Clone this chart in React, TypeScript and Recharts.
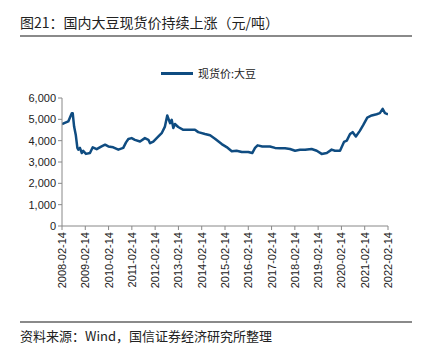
import React from 'react';
import { LineChart, Line, XAxis, YAxis } from 'recharts';

const times: number[] = [
  2008.12, 2008.39, 2008.54, 2008.58, 2008.64, 2008.71, 2008.78, 2008.82, 2008.89, 2008.97,
  2009.03, 2009.15, 2009.32, 2009.44, 2009.61, 2009.82, 2009.97, 2010.11, 2010.32, 2010.54,
  2010.75, 2010.87, 2010.97, 2011.11, 2011.25, 2011.47, 2011.68, 2011.83, 2011.90, 2012.04,
  2012.26, 2012.40, 2012.54, 2012.64, 2012.76, 2012.83, 2012.90, 2012.97, 2013.11, 2013.33,
  2013.54, 2013.83, 2013.97, 2014.26, 2014.48, 2014.69, 2014.98, 2015.19, 2015.41, 2015.62,
  2015.84, 2016.12, 2016.29, 2016.41, 2016.52, 2016.72, 2017.05, 2017.27, 2017.48, 2017.70,
  2017.91, 2018.13, 2018.34, 2018.56, 2018.84, 2019.06, 2019.27, 2019.49, 2019.70, 2019.84,
  2020.06, 2020.23, 2020.35, 2020.49, 2020.60, 2020.74, 2020.91, 2021.06, 2021.23, 2021.42,
  2021.63, 2021.77, 2021.89, 2021.99, 2022.12,
];

const prices: number[] = [
  4780, 4900, 5290, 5290, 4660, 4280, 3660, 3580, 3660, 3420,
  3520, 3380, 3420, 3690, 3600, 3730, 3810, 3730, 3690, 3580,
  3660, 3920, 4080, 4120, 4040, 3960, 4120, 4040, 3880, 3960,
  4200, 4350, 4660, 5180, 4820, 4980, 4590, 4780, 4640, 4510,
  4510, 4510, 4400, 4310, 4250, 4090, 3840, 3700, 3500, 3530,
  3470, 3470, 3420, 3660, 3780, 3730, 3730, 3660, 3640, 3640,
  3610, 3530, 3570, 3570, 3610, 3530, 3380, 3420, 3580, 3530,
  3530, 3940, 4000, 4310, 4400, 4200, 4460, 4740, 5080, 5180,
  5240, 5290, 5490, 5290, 5240,
];

const yearTicks: number[] = [
  2008.12, 2009.12, 2010.12, 2011.12, 2012.12, 2013.12, 2014.12, 2015.12,
  2016.12, 2017.12, 2018.12, 2019.12, 2020.12, 2021.12, 2022.12,
];
const tickLabels: string[] = [
  '2008-02-14', '2009-02-14', '2010-02-14', '2011-02-14', '2012-02-14', '2013-02-14', '2014-02-14', '2015-02-14',
  '2016-02-14', '2017-02-14', '2018-02-14', '2019-02-14', '2020-02-14', '2021-02-14', '2022-02-14',
];
const yTicks: number[] = [0, 1000, 2000, 3000, 4000, 5000, 6000];

const seriesName = '现货价:大豆';
const data = times.map((t, i) => ({ t, v: prices[i] }));

const FONT = '"Liberation Sans", Arial, "Noto Sans CJK SC", sans-serif';
const CJK = '"Noto Sans CJK SC", sans-serif';
const LINE_COLOR = '#0F4C81';

const XTick = (props: any) => {
  const { x, y, payload } = props;
  const idx = yearTicks.findIndex((v) => Math.abs(v - payload.value) < 1e-6);
  const label = idx >= 0 ? tickLabels[idx] : '';
  return (
    <text
      x={x}
      y={y}
      transform={`rotate(-90, ${x}, ${y})`}
      textAnchor="end"
      dy="0.36em"
      fontSize={11}
      fontFamily={FONT}
      fill="#222"
    >
      {label}
    </text>
  );
};

export default function App() {
  return (
    <div style={{ position: 'absolute', left: 0, top: 0, width: 421, height: 352, background: '#fff', overflow: 'hidden' }}>
      <div style={{ position: 'absolute', left: 20, top: 13, fontSize: 14, fontFamily: CJK, color: '#222', lineHeight: '18px', whiteSpace: 'nowrap' }}>
        图21：国内大豆现货价持续上涨（元/吨）
      </div>
      <div style={{ position: 'absolute', left: 20, top: 35, width: 392, height: 2, background: '#8a8a8a' }} />
      <div style={{ position: 'absolute', left: 161, top: 72, width: 32, height: 3, background: LINE_COLOR }} />
      <div style={{ position: 'absolute', left: 198, top: 65, fontSize: 11, fontFamily: CJK, color: '#222', lineHeight: '16px', whiteSpace: 'nowrap' }}>
        {seriesName}
      </div>
      <div style={{ position: 'absolute', left: 0, top: 0 }}>
        <LineChart width={421} height={352} data={data} margin={{ top: 98, right: 33, bottom: 64, left: 10 }}>
          <XAxis
            dataKey="t"
            type="number"
            domain={[2008.12, 2022.12]}
            ticks={yearTicks}
            interval={0}
            tick={<XTick />}
            tickLine={{ stroke: '#888' }}
            axisLine={{ stroke: '#888' }}
            tickSize={4}
            height={62}
            allowDataOverflow
          />
          <YAxis
            type="number"
            domain={[0, 6000]}
            ticks={yTicks}
            interval={0}
            tickFormatter={(v: number) => v.toLocaleString('en-US')}
            tick={{ fontSize: 11, fontFamily: FONT, fill: '#222' }}
            tickLine={{ stroke: '#888' }}
            axisLine={{ stroke: '#888' }}
            tickSize={4}
            width={52}
          />
          <Line
            type="linear"
            dataKey="v"
            stroke={LINE_COLOR}
            strokeWidth={2.5}
            strokeLinejoin="round"
            dot={false}
            isAnimationActive={false}
          />
        </LineChart>
      </div>
      <div style={{ position: 'absolute', left: 20, top: 321, width: 392, height: 2, background: '#8a8a8a' }} />
      <div style={{ position: 'absolute', left: 20, top: 327, fontSize: 13, fontFamily: CJK, color: '#222', lineHeight: '18px', whiteSpace: 'nowrap' }}>
        资料来源：Wind，国信证券经济研究所整理
      </div>
    </div>
  );
}
